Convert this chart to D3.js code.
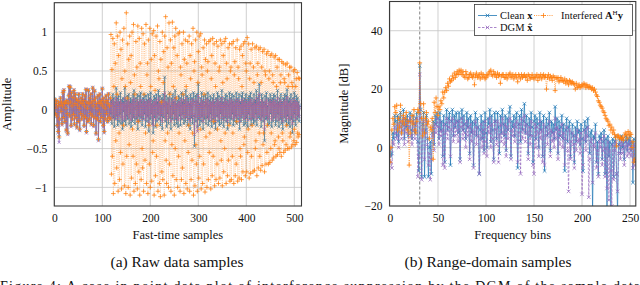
<!DOCTYPE html>
<html><head><meta charset="utf-8">
<script src="https://cdn.jsdelivr.net/npm/d3@7"></script>
<style>
body{margin:0;background:#fff}
svg{display:block}
text{font-family:"Liberation Serif","DejaVu Serif",serif;fill:#111}
</style>
</head><body>
<svg id="c" width="640" height="285"></svg>
<script>
// ---------- (a) raw data samples: amplitude per fast-time sample ----------
// samples 0-117: no interference, clean and interfered coincide
const rawHead = [.14,.02,-.05,.08,.12,-.08,-.2,.05,-.28,.1,
-.35,-.12,.06,.15,-.02,.1,-.18,.05,.22,-.1,
.25,.08,-.15,.1,.02,-.26,.12,-.05,-.3,.08,
.18,.3,-.08,.29,.1,-.2,.22,.05,-.12,.16,
-.06,.25,-.18,.08,.2,-.1,.14,-.22,.06,.12,
-.15,.2,.02,-.25,.1,-.05,.15,-.12,.08,.2,
-.08,.12,-.2,.05,.18,-.1,.26,-.28,.1,.02,
-.15,.25,.08,-.12,.15,-.05,.2,-.18,.1,-.08,
.28,.05,-.2,.12,.24,-.1,.15,-.3,.08,.02,
-.12,.18,-.38,.1,-.05,.2,-.15,.08,.12,-.1,
.27,.05,-.2,.15,-.28,.1,.02,-.12,.18,-.05,
.12,-.15,.08,.2,-.1,.05,-.12,.15];
const cleanTail = [-.05,.12,-.18,.08,.2,-.1,.15,-.22,.05,.1,
-.12,.28,-.08,.15,-.2,.06,.18,-.15,.1,-.05,
.22,-.18,.08,.12,-.25,.15,-.02,.1,-.15,.28,
.05,-.2,.12,-.08,.18,-.12,.05,.2,-.18,.1,
-.05,.15,-.22,.08,.12,-.15,.2,-.1,.25,.02,
-.18,.1,.15,-.12,.05,.2,-.25,.1,-.08,.18,
-.15,.05,.22,-.1,.12,-.2,.08,.15,-.12,.2,
-.05,.1,-.22,.18,.05,-.15,.12,-.08,.2,-.28,
.1,.15,-.12,.22,-.05,.08,-.18,.12,-.3,.05,
.18,-.1,.15,-.22,.08,.2,-.15,.1,-.05,.25,
-.12,.05,.18,-.2,.1,-.08,.15,-.25,.12,.2,
-.1,.05,.42,-.15,.1,.18,-.22,.08,-.05,.15,
-.18,.12,.22,-.1,.05,-.25,.15,.08,-.12,.2,
-.05,.1,-.2,.15,.25,-.12,.08,-.18,.12,.05,
-.22,.18,.1,-.08,.15,-.2,.05,.22,-.12,.1,
-.05,.2,-.18,.08,.12,-.15,.25,-.1,.05,.18,
-.2,.1,.15,-.12,.08,-.25,.2,.05,-.1,.15,
-.18,.12,.22,-.08,-.47,.1,.18,-.15,.05,.2,
-.22,.1,.33,-.12,.08,-.2,.15,.05,-.15,.22,
-.08,.12,-.25,.18,.1,-.12,.05,.2,-.18,.08,
.15,-.1,.22,-.2,.05,.12,-.15,.18,-.05,.1,
-.22,.15,.08,-.12,.2,-.18,.1,.05,-.25,.15,
.12,-.08,.22,-.15,.05,.18,-.2,.1,-.05,.15,
-.18,.25,.08,-.12,.1,-.22,.15,.05,-.1,.2,
-.15,.08,.18,-.25,.12,.05,-.1,.22,-.18,.08,
.15,-.12,.2,-.05,.1,-.2,.18,.05,-.15,.12,
-.08,.22,-.18,.1,.15,-.12,.05,.2,-.25,.1,
.08,-.15,.18,-.1,.22,-.05,.12,-.2,.15,.05,
-.18,.2,-.1,.12,.08,-.22,.15,-.05,.18,-.12,
.1,.22,-.2,.05,.15,-.12,.08,-.18,.2,.1,
-.15,.12,-.05,.25,-.2,.08,.15,-.1,.18,.33,
-.12,.1,.05,-.22,.2,-.08,.15,-.15,.1,.05,
-.4,.18,.08,-.12,.22,-.1,.05,-.2,.15,.12,
-.18,.1,.2,-.05,.12,-.22,.15,.08,-.15,.2,
-.1,.05,.18,-.2,.12,.08,-.15,.25,-.05,.1,
-.22,.15,.05,-.12,.2,-.18,.1,.08,-.25,.15,
.12,-.1,.2,-.15,.05,.18,-.2,.26,-.08,.12,
-.18,.1,.15,-.22,.05,.2,-.12,.08,-.3,.15,
.1,-.15,.22,-.05,.12,-.2,.18,.05,-.12,.15,
-.08,.1,-.15,.05];
const interfTail = [.97,-.83,.52,-.6,.92,-1.08,.3,.85,-.95,.6,
-.4,1.12,-.75,.2,.95,-1.05,.7,-.3,-.9,1.0,
-.55,.78,-1.02,.4,.9,-.7,-.2,1.05,-.98,.5,
.3,-1.08,1.25,-.6,.15,.85,-1.0,.65,-.45,.95,
-1.1,.35,.7,-.88,1.0,-.25,-.6,1.1,-1.05,.45,
.2,-.95,.88,-.7,.55,-1.02,1.08,-.15,-.8,.92,
-1.1,.6,.3,-.9,1.05,-.5,-.75,.98,-1.05,.2,
.85,-.65,-.3,1.1,-.95,.45,.6,-1.08,.9,-.2,
-.7,1.05,-1.0,.3,.65,-.92,.98,-.55,-.4,1.02,
-1.1,.7,.25,-.85,.95,-.6,-.2,1.08,-1.05,.5,
.4,-.95,.88,-1.12,.65,.1,-.8,1.0,-.9,.35,
.75,-1.1,.95,-.4,1.2,-.65,-.95,.8,-.3,.55,
-1.0,1.12,-.7,.2,.9,-1.05,.6,-.45,1.13,-.85,
.3,.8,-1.1,.95,-.5,1.05,-.9,.15,.7,-1.0,
.98,-.6,-.3,1.0,-1.05,.55,.45,-.9,.85,-.75,
.2,1.0,-1.08,.65,-.4,.9,-.95,.3,.6,-1.02,
.88,-.55,-.2,.95,-1.05,.7,.4,-.9,.85,-.65,
-.3,1.05,-1.1,.5,.62,-.98,.9,-.45,-.7,1.0,
-1.05,.35,.75,-.88,.95,-.6,-.25,.98,-1.02,.55,
.45,-.95,.8,-.7,.2,.9,-1.06,.65,-.35,.85,
-1.0,.5,.62,-.9,.88,-.55,-.3,.9,-1.02,.4,
.7,-.85,.92,-.6,-.15,.85,-.98,.6,.3,-.9,
.88,-.7,-.25,.82,-.95,.5,.55,-.88,.9,-.4,
-.65,.85,-.98,.35,.7,-.8,.88,-.5,-.3,.92,
-.95,.6,.4,-.85,.8,-.65,-.2,.85,-.92,.5,
.55,-.9,.85,-.6,-.3,.88,-.95,.45,.62,-.85,
.8,-.7,-.15,.9,-.92,.55,.4,-.88,.78,-.5,
-.6,.82,-.9,.3,.7,-.8,.85,-.45,-.35,.88,
-.85,.6,.5,-.8,.93,-.55,-.25,.85,-.88,.4,
.6,-.82,.78,-.6,-.2,.85,-.8,.55,.35,-.78,
.8,-.5,-.4,.82,-.85,.45,.6,-.75,.78,-.3,
-.6,.8,-.78,.35,.55,-.72,.75,-.45,-.3,.78,
-.8,.5,.45,-.7,.72,-.55,-.2,.75,-.7,.4,
.5,-.68,.7,-.5,-.3,.72,-.65,.45,.35,-.62,
.68,-.45,-.4,.7,-.6,.3,.55,-.58,.65,-.35,
-.5,.65,-.55,.35,.45,-.6,.62,-.3,-.4,.6,
-.55,.4,.35,-.52,.58,-.45,-.2,.6,-.5,.3,
.45,-.5,.55,-.35,-.3,.55,-.48,.35,.3,-.45,
.5,-.4,-.25,.52,-.45,.3,.4,-.42,.48,-.3,
-.35,.41,-.32,.4];
const dgmHead = [.13,.03,-.06,.07,.12,-.09,-.22,.04,-.3,.1,
-.42,-.13,.05,.16,-.03,.1,-.2,.05,.24,-.11,
.26,.07,-.17,.1,.01,-.28,.13,-.06,-.32,.08,
.2,.31,-.09,.3,.1,-.22,.23,.05,-.13,.17,
-.07,.26,-.2,.08,.21,-.11,.15,-.24,.06,.13,
-.16,.21,.01,-.27,.1,-.06,.16,-.13,.08,.21,
-.09,.13,-.22,.05,.19,-.11,.27,-.3,.1,.01,
-.16,.26,.08,-.13,.16,-.06,.21,-.2,.1,-.09,
.29,.05,-.22,.12,.25,-.11,.16,-.32,.08,.01,
-.13,.19,-.4,.1,-.06,.21,-.16,.08,.13,-.11,
.28,.05,-.22,.15,-.3,.1,.01,-.13,.19,-.06,
.12,-.16,.08,.21,-.1,.05,-.13,.15];
const dgmTail = [-.03,.08,-.1,.05,.12,-.06,.1,-.12,.02,.06,
-.08,.15,-.05,.1,-.12,.04,.1,-.08,.06,-.02,
.12,-.1,.05,.08,-.14,.08,0,.06,-.1,.15,
.03,-.12,.07,-.04,.1,-.07,.03,.12,-.1,.06,
-.02,.08,-.13,.05,.07,-.09,.12,-.05,.14,.01,
-.1,.06,.09,-.07,.03,.12,-.15,.06,-.04,.1,
-.08,.03,.13,-.06,.07,-.12,.05,.09,-.07,.12,
-.03,.06,-.13,.1,.03,-.09,.07,-.05,.12,-.18,
.06,.09,-.07,.13,-.03,.05,-.1,.07,-.2,.03,
.1,-.06,.09,-.13,.05,.12,-.09,.06,-.03,.15,
-.07,.03,.1,-.12,.06,-.05,.09,-.15,.07,.12,
-.06,.03,.22,-.09,.06,.1,-.13,.05,-.03,.09,
-.1,.07,.13,-.06,.03,-.15,.09,.05,-.07,.12,
-.03,.06,-.12,.09,.15,-.07,.05,-.1,.07,.03,
-.13,.1,.06,-.05,.09,-.12,.03,.13,-.07,.06,
-.03,.12,-.1,.05,.07,-.09,.15,-.06,.03,.1,
-.12,.06,.09,-.07,.05,-.15,.12,.03,-.06,.09,
-.1,.07,.13,-.05,-.32,.06,.1,-.09,.03,.12,
-.28,.06,.18,-.07,.05,-.12,.09,.03,-.09,.13,
-.05,.07,-.15,.1,.06,-.07,.03,.12,-.1,.05,
.09,-.06,.13,-.12,.03,.07,-.09,.1,-.03,.06,
-.13,.09,.05,-.07,.12,-.1,.06,.03,-.15,.09,
.07,-.05,.13,-.09,.03,.1,-.12,.06,-.03,.09,
-.1,.15,.05,-.07,.06,-.13,.09,.03,-.06,.12,
-.09,.05,.1,-.15,.07,.03,-.06,.13,-.1,.05,
.09,-.07,.12,-.03,.06,-.12,.1,.03,-.09,.07,
-.05,.13,-.1,.06,.09,-.07,.03,.12,-.15,.06,
.05,-.09,.1,-.06,.13,-.03,.07,-.12,.09,.03,
-.1,.12,-.06,.07,.05,-.13,.09,-.03,.1,-.07,
.06,.13,-.12,.03,.09,-.07,.05,-.1,.12,.06,
-.09,.07,-.03,.15,-.12,.05,.09,-.06,.1,.2,
-.07,.06,.03,-.13,.12,-.05,.09,-.09,.06,.03,
-.25,.1,.05,-.07,.13,-.06,.03,-.12,.09,.07,
-.1,.06,.12,-.03,.07,-.13,.09,.05,-.09,.12,
-.06,.03,.1,-.12,.07,.05,-.09,.15,-.03,.06,
-.13,.09,.03,-.07,.12,-.1,.06,.05,-.15,.09,
.07,-.06,.12,-.09,.03,.1,-.12,.16,-.05,.07,
-.1,.06,.09,-.13,.03,.12,-.07,.05,-.18,.09,
.06,-.09,.13,-.03,.07,-.12,.1,.03,-.07,.09,
-.05,.06,-.09,.03];
const timeClean = rawHead.concat(cleanTail);
const timeInterfered = rawHead.concat(interfTail);
const timeDgm = dgmHead.concat(dgmTail);

// ---------- (b) range-domain samples: magnitude [dB] per frequency bin ----------
const binClean = [-1,-3,-2,5,3,11,9,4,11,2,
10,12,5,8,13,3,10,7,11,4,
9,12,6,3,11,8,5,10,12,2,
-8,28,13,-10,8,12,-10,6,11,3,
-10,0,2,-9,5,9,1,11,8,12,
10,3,12,6,9,-3,11,-5,8,13,
6,10,12,-6,9,13,4,11,7,12,
9,5,12,-4,10,13,6,11,8,3,
12,7,10,-2,11,5,9,-6,8,12,
4,10,7,-9,6,11,3,9,-1,12,
5,0,10,8,13,2,11,6,-4,12,
9,3,12,7,-2,11,5,13,8,4,
11,-1,10,6,12,14,-3,9,7,11,
4,10,12,-7,8,11,2,13,6,9,
15,5,11,8,-2,10,4,12,7,-5,
9,11,3,10,8,0,12,6,9,-3,
11,-8,7,10,4,8,12,-1,9,5,
8,3,14,6,10,-2,9,4,7,11,
3,8,-8,6,10,2,7,9,-3,5,
8,4,-5,7,2,9,5,6,1,8,
3,-8,6,9,2,7,10,4,-2,5,
6,-22,4,3,8,-5,2,-9,4,3,
5,-4,2,6,-9,3,-21,4,-3,2,
-22,1,3,-10,2,4,-9,-22,1,3,
-2,4,0,3,-4,2,4,-1,3,1,
4,-1,2,-12,3,-5];
const binInterfered = [-5,0,6,10,8,14,12,14.5,6,10,
7,14.5,5,9,11,8,10,12,6,9,
-6,5,9,11,8,13,6,5,9,13,
12,29,15,10,4,15,5,10,12,8,
9,3,7,6,10,-4,15.5,12,17,14,
11,14,13,16,15,19,17,19,20.5,19.5,
22,21,23.5,22.5,23,24.5,23.5,25.5,24,25,
26,25,26.5,25.5,26.5,25,26,24.5,24,26,
25,23.5,24,25,25.5,24.5,24,25,21.5,24.5,
25.5,24,24.5,25,23.5,25.5,24,25,24.5,23.5,
24,25,24.5,25.5,26,26.5,25,24.5,26,25,
25,24,25.5,24.5,25,22,24.5,25,25,24,
24,25,23.5,24.5,25,25.5,24,24.5,25,23.5,
24.5,25,24,22.5,25,24.5,23.5,25,24,24.5,
25,24,24.5,23,25,24.5,23.5,24,25,24,
23.5,24.5,24,25,23,24.5,24,25,23.5,24.5,
25,24,24.5,20,24,25,23.5,24.5,24,23,
24.5,24,19.5,24,23.5,24,22.5,23,24,23,
23,22.5,23.5,22,23,22.5,21.5,23,22.5,22,
22.5,22,21.5,20,22,20.5,21,21.5,20.5,21,
21.5,21,22,21.5,20.5,21.5,21,20.5,21,20.5,
20,20.5,19.5,20,19,18,17.5,16,15.5,14.5,
14,13.5,12.5,12,11,10,9.5,9,7.5,8,
6,7,5,6,4.5,3.5,0.5,4,4,3,
3.5,3,3.5,2.5,4,5,4.5,3,5.5,4,
5,4.5,0,2,-5,-4];
const binDgm = [0,-5,-7,2,1,7,5,3,8,0,
7,9,3,6,10,1,8,5,9,2,
7,10,4,1,9,6,3,8,10,-10,
-3,25,10,-11,6,9,-4,5,9,1,
-6,-2,-11,-4,4,7,-1,8,5,10,
7,1,9,4,6,-6,8,-7,5,10,
3,7,9,-3,6,10,2,8,4,9,
6,2,9,-5,7,10,3,8,5,0,
9,4,7,-4,8,2,6,-7,5,9,
1,7,4,-9,3,8,0,6,-2,9,
2,-3,7,5,10,0,8,3,-5,9,
6,1,9,-5,4,8,2,10,5,1,
8,-3,7,3,9,10,-4,6,4,8,
2,7,9,-5,5,8,-9,10,3,6,
11,2,8,5,-4,7,1,9,4,-6,
-9,8,0,7,5,-3,9,3,6,-5,
8,-6,4,7,1,5,9,-3,6,2,
5,0,10,3,7,-4,6,1,4,8,
0,5,-6,3,7,-1,-15,6,-4,2,
5,1,-7,4,-1,6,2,3,-2,5,
-16,-6,3,6,-1,4,7,-17,-4,2,
3,-12,1,0,5,-7,-1,-10,2,0,
3,-6,-1,4,-10,0,-14,2,-18,-1,
-8,-20,1,-11,-1,2,-9,-15,-2,1,
-4,2,-2,1,-6,0,2,-3,1,-2,
2,-3,0,-7,1,-6];
const targetBin = 31;

const timeXTicks = [0,100,200,300,400,500];
const timeYTicks = [-1,-0.5,0,0.5,1];
const binXTicks = [0,50,100,150,200,250];
const binYTicks = [-20,0,20,40];

const seriesNames = ["Clean", "Interfered", "DGM"];
const captions = ["(a) Raw data samples", "(b) Range-domain samples"];
const xTitles = ["Fast-time samples", "Frequency bins"];
const yTitles = ["Amplitude", "Magnitude [dB]"];

// ---------- drawing ----------
const C = {blue:"#1f77b4", orange:"#ff7f0e", purple:"#9467bd"};
const svg = d3.select("#c");
const fmt = d => (d<0?"\u2212":"") + Math.abs(d);
const crossD = s => `M${-s},${-s}L${s},${s}M${-s},${s}L${s},${-s}`;
const plusD = s => `M${-s},0L${s},0M0,${-s}L0,${s}`;

function panel(o){
  const g = svg.append("g");
  const x = d3.scaleLinear().domain(o.xd).range(o.xr);
  const y = d3.scaleLinear().domain(o.yd).range(o.yr);
  const [x0,x1] = o.xr, [y1,y0] = o.yr;
  g.append("g").selectAll("line").data(o.xt).join("line")
    .attr("x1",d=>x(d)).attr("x2",d=>x(d)).attr("y1",y0).attr("y2",y1)
    .attr("stroke","#c4c4c4").attr("stroke-width",0.8);
  g.append("g").selectAll("line").data(o.yt).join("line")
    .attr("y1",d=>y(d)).attr("y2",d=>y(d)).attr("x1",x0).attr("x2",x1)
    .attr("stroke","#c4c4c4").attr("stroke-width",0.8);
  const cid = "clip"+o.id;
  svg.append("clipPath").attr("id",cid).append("rect")
    .attr("x",x0).attr("y",y0).attr("width",x1-x0).attr("height",y1-y0);
  const pg = g.append("g").attr("clip-path",`url(#${cid})`);
  if (o.vline!==undefined){
    pg.append("line").attr("x1",x(o.vline)).attr("x2",x(o.vline)).attr("y1",y0).attr("y2",y1)
      .attr("stroke","#808080").attr("stroke-width",1).attr("stroke-dasharray","3,2");
  }
  for (const s of o.series){
    const line = d3.line().x((d,i)=>x(i)).y(d=>y(d));
    pg.append("path").datum(s.data).attr("d",line).attr("fill","none")
      .attr("stroke",s.color).attr("stroke-width",s.lw).attr("stroke-opacity",s.lo||1)
      .attr("stroke-dasharray",s.dash||null);
    pg.append("g").selectAll("path").data(s.data).join("path")
      .attr("transform",(d,i)=>`translate(${x(i)},${y(d)})`)
      .attr("d",s.mark==="+"?plusD(s.ms):crossD(s.ms))
      .attr("fill","none").attr("stroke",s.color).attr("stroke-width",s.mw);
  }
  g.append("rect").attr("x",x0).attr("y",y0).attr("width",x1-x0).attr("height",y1-y0)
    .attr("fill","none").attr("stroke","#3a3a3a").attr("stroke-width",1.1);
  const ax = g.append("g").attr("transform",`translate(0,${y1})`)
    .call(d3.axisBottom(x).tickValues(o.xt).tickFormat(fmt).tickSize(0).tickPadding(8));
  ax.select(".domain").remove();
  ax.selectAll("text").attr("font-family","Liberation Serif").attr("font-size",11.5).attr("fill","#111");
  const ay = g.append("g").attr("transform",`translate(${x0},0)`)
    .call(d3.axisLeft(y).tickValues(o.yt).tickFormat(fmt).tickSize(0).tickPadding(7));
  ay.select(".domain").remove();
  ay.selectAll("text").attr("font-family","Liberation Serif").attr("font-size",11.5).attr("fill","#111");
  g.append("text").attr("x",(x0+x1)/2).attr("y",o.xtY).attr("text-anchor","middle")
    .attr("font-size",12.5).text(o.xTitle);
  g.append("text").attr("transform",`translate(${o.ytX},${(y0+y1)/2}) rotate(-90)`)
    .attr("text-anchor","middle").attr("font-size",12.5).text(o.yTitle);
  g.append("text").attr("x",o.capX).attr("y",267).attr("text-anchor","middle")
    .attr("font-size",15.5).text(o.caption);
  return {x,y};
}

panel({id:"a", xd:[0,515], xr:[54.3,301.5], yd:[-1.24,1.38], yr:[206,2.7],
  xt:timeXTicks, yt:timeYTicks, xTitle:xTitles[0], yTitle:yTitles[0], caption:captions[0],
  xtY:239, ytX:11, capX:177,
  series:[
    {data:timeClean, color:C.blue, lw:0.6, mark:"x", ms:1.6, mw:0.7},
    {data:timeDgm, color:C.purple, lw:0.6, mark:"x", ms:1.5, mw:0.7},
    {data:timeInterfered, color:C.orange, lw:0.6, lo:0.45, dash:"1,1.2", mark:"+", ms:2.3, mw:0.75}
  ]});

panel({id:"b", xd:[-0.5,256], xr:[389.5,635.8], yd:[-20,50], yr:[206,1.5],
  xt:binXTicks, yt:binYTicks, xTitle:xTitles[1], yTitle:yTitles[1], caption:captions[1],
  xtY:239, ytX:348, capX:488, vline:targetBin,
  series:[
    {data:binClean, color:C.blue, lw:0.7, mark:"x", ms:1.8, mw:0.7},
    {data:binDgm, color:C.purple, lw:0.7, dash:"2.5,1.5", mark:"x", ms:1.8, mw:0.7},
    {data:binInterfered, color:C.orange, lw:0.7, dash:"1,1.2", mark:"+", ms:2.4, mw:0.8}
  ]});

// legend
const lg = svg.append("g");
lg.append("rect").attr("x",474.5).attr("y",4.5).attr("width",158).attr("height",31)
  .attr("fill","#fff").attr("stroke","#3a3a3a").attr("stroke-width",0.8);
const entries = [
  {name:seriesNames[0], color:C.blue, dash:null, mark:"x", lx:478, ly:15.5, tx:500},
  {name:seriesNames[1], color:C.orange, dash:"1,1.2", mark:"+", lx:534, ly:15.5, tx:561},
  {name:seriesNames[2], color:C.purple, dash:"2.5,1.5", mark:"x", lx:478, ly:27.5, tx:500}
];
entries.forEach((e,k)=>{
  lg.append("line").attr("x1",e.lx).attr("x2",e.lx+19).attr("y1",e.ly).attr("y2",e.ly)
    .attr("stroke",e.color).attr("stroke-width",0.8).attr("stroke-dasharray",e.dash);
  lg.append("path").attr("transform",`translate(${e.lx+9.5},${e.ly})`)
    .attr("d",e.mark==="+"?plusD(2.4):crossD(1.8)).attr("fill","none")
    .attr("stroke",e.color).attr("stroke-width",0.8);
  const t = lg.append("text").attr("x",e.tx).attr("y",e.ly+3.3).attr("font-size",10.5);
  if (k===0){ t.append("tspan").text("Clean "); t.append("tspan").attr("font-weight","bold").text("x"); }
  if (k===1){ t.append("tspan").text("Interfered "); t.append("tspan").attr("font-weight","bold").text("A");
    t.append("tspan").attr("font-size",7).attr("dy",-4).text("H");
    t.append("tspan").attr("font-weight","bold").attr("dy",4).text("y"); }
  if (k===2){ t.append("tspan").text("DGM "); t.append("tspan").attr("font-weight","bold").text("x\u0302"); }
});

// partially visible figure caption at the bottom edge (cut off in the reference too)
svg.append("text").attr("x",0).attr("y",291).attr("font-size",14)
  .attr("textLength",640).attr("lengthAdjust","spacing")
  .text("Figure 4: A case in point data plot of interference suppression by the DGM of the sample data");
</script>
</body></html>
